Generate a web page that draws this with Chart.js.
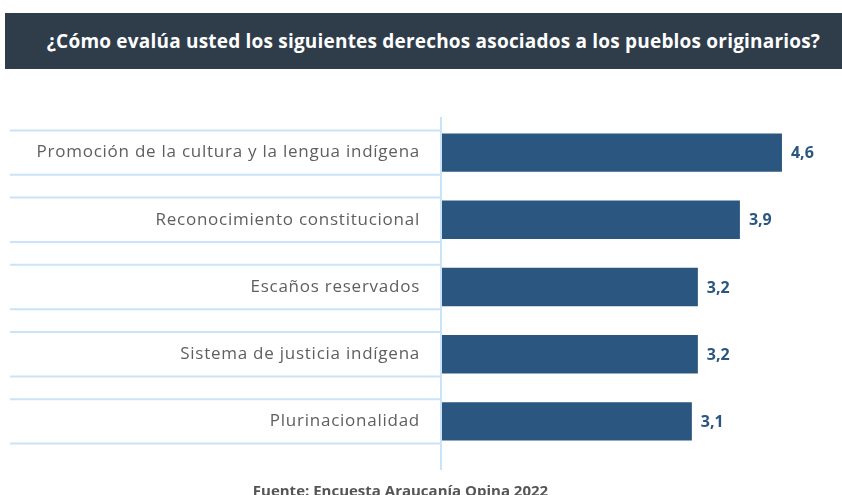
<!DOCTYPE html>
<html lang="es">
<head>
<meta charset="utf-8">
<title>Derechos pueblos originarios</title>
<script src="https://cdn.jsdelivr.net/npm/chart.js@4.4.1/dist/chart.umd.min.js"></script>
<style>
  html, body { margin: 0; padding: 0; background: #fff; }
  body { width: 842px; height: 495px; position: relative; overflow: hidden; font-family: 'Open Sans', sans-serif; }
  .grafico { position: absolute; left: 0; top: 0; width: 842px; height: 495px; }
  .titulo {
    position: absolute; left: 5px; top: 13px; width: 837px; height: 56px;
    box-sizing: border-box; padding-left: 20px;
    background: #2f3d4b; color: #fff; font-weight: 700; font-size: 19px;
    letter-spacing: 0.2px;
    line-height: 56px; text-align: center; white-space: nowrap;
  }
  .fuente {
    position: absolute; left: 0; top: 480px; width: 801px;
    text-align: center; font-weight: 700; font-size: 15px; color: #555;
  }
</style>
</head>
<body>
<div class="grafico"><canvas id="chart"></canvas></div>
<div class="titulo">¿Cómo evalúa usted los siguientes derechos asociados a los pueblos originarios?</div>
<div class="fuente">Fuente: Encuesta Araucanía Opina 2022</div>
<script>
const categorias = [
  'Promoción de la cultura y la lengua indígena',
  'Reconocimiento constitucional',
  'Escaños reservados',
  'Sistema de justicia indígena',
  'Plurinacionalidad'
];
const promedios = [4.6, 3.9, 3.2, 3.2, 3.1];
const ejeMin = -1.06;
const ejeMax = 5.4;

const azulBarra = '#2a5680';
const azulLinea = '#c9e4f8';

const formato = v => v.toFixed(1).replace('.', ',');

// lineas celestes de cada categoria, eje vertical y etiquetas de valor
const decoracion = {
  id: 'decoracion',
  beforeDraw(chart) {
    // las etiquetas del eje van algo espaciadas, como en el original
    chart.ctx.letterSpacing = '0.75px';
  },
  beforeDatasetsDraw(chart) {
    const { ctx, chartArea } = chart;
    const meta = chart.getDatasetMeta(0);
    ctx.save();
    ctx.strokeStyle = azulLinea;
    ctx.lineWidth = 2;
    meta.data.forEach(bar => {
      const mitad = bar.height / 2 + 3;
      [bar.y - mitad, bar.y + mitad].forEach(y => {
        ctx.beginPath();
        ctx.moveTo(10, y);
        ctx.lineTo(chartArea.left, y);
        ctx.stroke();
      });
    });
    ctx.beginPath();
    ctx.moveTo(chartArea.left - 1, chartArea.top - 2);
    ctx.lineTo(chartArea.left - 1, chartArea.bottom + 15);
    ctx.stroke();
    ctx.restore();
  },
  afterDatasetsDraw(chart) {
    const { ctx } = chart;
    const meta = chart.getDatasetMeta(0);
    ctx.save();
    ctx.letterSpacing = '0px';
    ctx.fillStyle = azulBarra;
    ctx.font = "700 16px 'Open Sans', sans-serif";
    ctx.textAlign = 'left';
    ctx.textBaseline = 'middle';
    meta.data.forEach((bar, i) => {
      ctx.fillText(formato(promedios[i]), bar.x + 9, bar.y + 1);
    });
    ctx.restore();
  },
  afterDraw(chart) {
    chart.ctx.letterSpacing = '0px';
  }
};

new Chart(document.getElementById('chart'), {
  type: 'bar',
  data: {
    labels: categorias,
    datasets: [{
      data: promedios,
      base: ejeMin,
      backgroundColor: azulBarra,
      barPercentage: 0.571,
      categoryPercentage: 1
    }]
  },
  options: {
    indexAxis: 'y',
    responsive: true,
    maintainAspectRatio: false,
    animation: false,
    layout: { padding: { top: 119, bottom: 40, left: 10, right: 12 } },
    plugins: {
      legend: { display: false },
      tooltip: { enabled: false }
    },
    scales: {
      x: {
        display: false,
        min: ejeMin,
        max: ejeMax
      },
      y: {
        grid: { display: false, drawTicks: false },
        border: { display: false },
        afterFit: scale => { scale.width = 432; },
        ticks: {
          padding: 22,
          color: '#5f5f5f',
          font: { family: "'Open Sans', sans-serif", size: 17 }
        }
      }
    }
  },
  plugins: [decoracion]
});
</script>
</body>
</html>
